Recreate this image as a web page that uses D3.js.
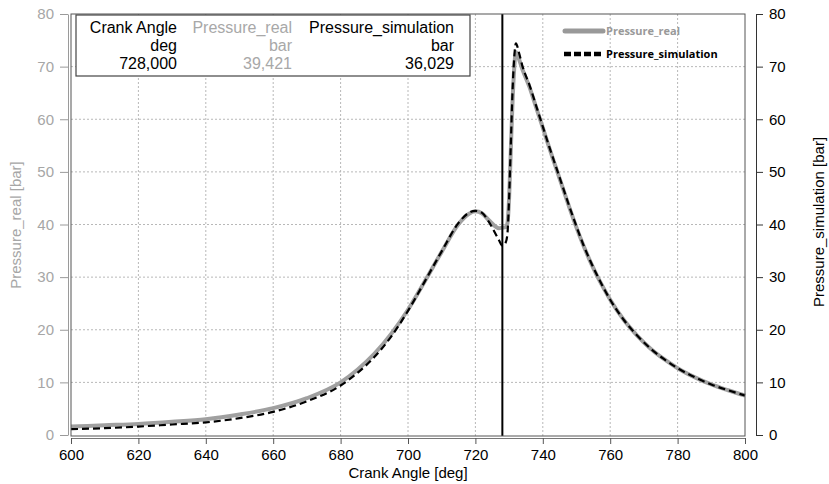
<!DOCTYPE html>
<html>
<head>
<meta charset="utf-8">
<script src="https://cdn.jsdelivr.net/npm/d3@7"></script>
<style>
  body { margin: 0; background: #fff; }
  text { font-family: "Liberation Sans", Arial, sans-serif; }
</style>
</head>
<body>
<div id="chart"></div>
<script>
// crank angle samples [deg]
const angles = [600, 610, 620, 630, 640, 650, 660, 670, 680, 685, 690, 695, 700, 705, 710, 715, 718, 720, 722, 724, 726, 727, 728, 729, 729.5, 730, 730.5, 731, 731.5, 732, 733, 734, 736, 738, 740, 742, 744, 746, 748, 750, 752, 754, 756, 758, 760, 764, 768, 772, 776, 780, 785, 790, 795, 800];
// measured pressure [bar]
const pressureReal = [1.6, 1.85, 2.1, 2.5, 3.0, 3.9, 5.1, 7.0, 10.0, 12.4, 15.4, 19.2, 23.8, 29.2, 34.8, 40.1, 42.0, 42.5, 42.1, 40.8, 39.6, 39.3, 39.4, 39.5, 40.2, 45, 54, 63, 69.5, 72.8, 71.3, 69.4, 66.2, 62.3, 58.4, 54.4, 50.6, 46.8, 43.0, 39.4, 36.1, 33.1, 30.4, 27.95, 25.7, 21.9, 18.9, 16.4, 14.4, 12.7, 11.0, 9.6, 8.5, 7.5];
// simulated pressure [bar]
const pressureSim = [1.1, 1.3, 1.6, 2.0, 2.4, 3.2, 4.4, 6.4, 9.4, 11.8, 14.8, 18.7, 23.6, 29.2, 34.9, 40.3, 42.2, 42.6, 42.2, 40.5, 38.2, 37.0, 36.0, 36.6, 38.2, 45, 55, 65, 71.5, 74.4, 72.5, 70.0, 66.6, 62.6, 58.6, 54.6, 50.8, 47.0, 43.2, 39.6, 36.2, 33.2, 30.5, 28.0, 25.7, 21.9, 18.9, 16.4, 14.4, 12.7, 11.0, 9.6, 8.5, 7.5];

const xTicks = [600, 620, 640, 660, 680, 700, 720, 740, 760, 780, 800];
const yTicks = [0, 10, 20, 30, 40, 50, 60, 70, 80];

// cursor readout
const cursorAngle = 728;
const tableHeaders = ["Crank Angle", "Pressure_real", "Pressure_simulation"];
const tableUnits = ["deg", "bar", "bar"];
const tableValues = ["728,000", "39,421", "36,029"];

const seriesNames = ["Pressure_real", "Pressure_simulation"];

const width = 829, height = 484;
const plot = { left: 71, right: 745, top: 14, bottom: 436 };

const svg = d3.select('#chart')
    .append('svg')
    .attr('width', width)
    .attr('height', height);

const x = d3.scaleLinear().domain([600, 800]).range([plot.left, plot.right]);
const y = d3.scaleLinear().domain([0, 80]).range([plot.bottom - 1, plot.top]);

// grid
svg.append('g')
    .selectAll('line')
    .data(xTicks.slice(1, -1))
    .enter()
    .append('line')
    .attr('x1', d => x(d)).attr('x2', d => x(d))
    .attr('y1', plot.top).attr('y2', plot.bottom)
    .attr('stroke', '#b8b8b8')
    .attr('stroke-dasharray', '2,2');

svg.append('g')
    .selectAll('line')
    .data(yTicks.slice(1, -1))
    .enter()
    .append('line')
    .attr('x1', plot.left).attr('x2', plot.right)
    .attr('y1', d => y(d)).attr('y2', d => y(d))
    .attr('stroke', '#b8b8b8')
    .attr('stroke-dasharray', '2,2');

// left axis (gray)
const leftAxis = svg.append('g')
    .attr('transform', 'translate(68,0)')
    .call(d3.axisLeft(y).tickValues(yTicks).tickSize(8).tickPadding(6).tickSizeOuter(0));
leftAxis.select('.domain').attr('stroke', '#9a9a9a');
leftAxis.selectAll('.tick line').attr('stroke', '#9a9a9a');
leftAxis.selectAll('text')
    .attr('fill', '#a6a6a6')
    .style('font-size', '15px');

// right axis (black)
const rightAxis = svg.append('g')
    .attr('transform', 'translate(756,0)')
    .call(d3.axisRight(y).tickValues(yTicks).tickSize(7).tickPadding(6).tickSizeOuter(0));
rightAxis.select('.domain').attr('stroke', '#333');
rightAxis.selectAll('.tick line').attr('stroke', '#333');
rightAxis.selectAll('text')
    .attr('fill', '#000')
    .style('font-size', '15px');

// bottom axis
const bottomAxis = svg.append('g')
    .attr('transform', 'translate(0,' + (plot.bottom + 2) + ')')
    .call(d3.axisBottom(x).tickValues(xTicks).tickSize(6).tickPadding(5).tickSizeOuter(0));
bottomAxis.select('.domain').attr('stroke', '#777');
bottomAxis.selectAll('.tick line').attr('stroke', '#555');
bottomAxis.selectAll('text')
    .attr('fill', '#000')
    .style('font-size', '15px');

// axis titles
svg.append('text')
    .attr('x', x(700))
    .attr('y', 478)
    .attr('text-anchor', 'middle')
    .style('font-size', '15px')
    .text('Crank Angle [deg]');

svg.append('text')
    .attr('transform', 'translate(21,' + 225 + ') rotate(-90)')
    .attr('text-anchor', 'middle')
    .attr('fill', '#a6a6a6')
    .style('font-size', '15px')
    .text('Pressure_real [bar]');

svg.append('text')
    .attr('transform', 'translate(824,' + 222 + ') rotate(-90)')
    .attr('text-anchor', 'middle')
    .attr('fill', '#000')
    .style('font-size', '15px')
    .text('Pressure_simulation [bar]');

// curves
const pressureLine = d3.line()
    .x((d, i) => x(angles[i]))
    .y(d => y(d))
    .curve(d3.curveMonotoneX);

svg.append('path')
    .datum(pressureReal)
    .attr('d', pressureLine)
    .attr('fill', 'none')
    .attr('stroke', '#a0a0a0')
    .attr('stroke-width', 4)
    .attr('stroke-linejoin', 'round');

svg.append('path')
    .datum(pressureSim)
    .attr('d', pressureLine)
    .attr('fill', 'none')
    .attr('stroke', '#000')
    .attr('stroke-width', 2.2)
    .attr('stroke-dasharray', '7,4');

// cursor
svg.append('line')
    .attr('x1', x(cursorAngle)).attr('x2', x(cursorAngle))
    .attr('y1', plot.top).attr('y2', plot.bottom)
    .attr('stroke', '#000')
    .attr('stroke-width', 2);

// plot frame
svg.append('rect')
    .attr('x', plot.left).attr('y', plot.top)
    .attr('width', plot.right - plot.left)
    .attr('height', plot.bottom - plot.top)
    .attr('fill', 'none')
    .attr('stroke', '#555');

// readout table
svg.append('rect')
    .attr('x', 76).attr('y', 15)
    .attr('width', 394).attr('height', 61)
    .attr('fill', '#fff')
    .attr('stroke', '#444')
    .attr('stroke-width', 1.2);

const colRight = [177, 292, 454];
const colColor = ['#000', '#a8a8a8', '#000'];
[tableHeaders, tableUnits, tableValues].forEach((row, r) => {
    svg.append('g')
        .selectAll('text')
        .data(row)
        .enter()
        .append('text')
        .attr('x', (d, i) => colRight[i])
        .attr('y', 33 + r * 18)
        .attr('text-anchor', 'end')
        .attr('fill', (d, i) => colColor[i])
        .style('font-size', '16px')
        .text(d => d);
});

// legend
const legend = svg.append('g').attr('transform', 'translate(563,0)');
legend.append('line')
    .attr('x1', 2).attr('x2', 40)
    .attr('y1', 31).attr('y2', 31)
    .attr('stroke', '#999')
    .attr('stroke-width', 5)
    .attr('stroke-linecap', 'round');
legend.append('line')
    .attr('x1', 1).attr('x2', 41)
    .attr('y1', 54).attr('y2', 54)
    .attr('stroke', '#000')
    .attr('stroke-width', 4.5)
    .attr('stroke-dasharray', '7,3');
legend.selectAll('text.lg')
    .data(seriesNames)
    .enter()
    .append('text')
    .attr('class', 'lg')
    .attr('x', 43)
    .attr('y', (d, i) => 35 + i * 23)
    .attr('fill', (d, i) => i === 0 ? '#999' : '#000')
    .style('font-family', '"Open Sans", sans-serif')
    .style('font-weight', 'bold')
    .style('font-size', '11px')
    .text(d => d);
</script>
</body>
</html>
